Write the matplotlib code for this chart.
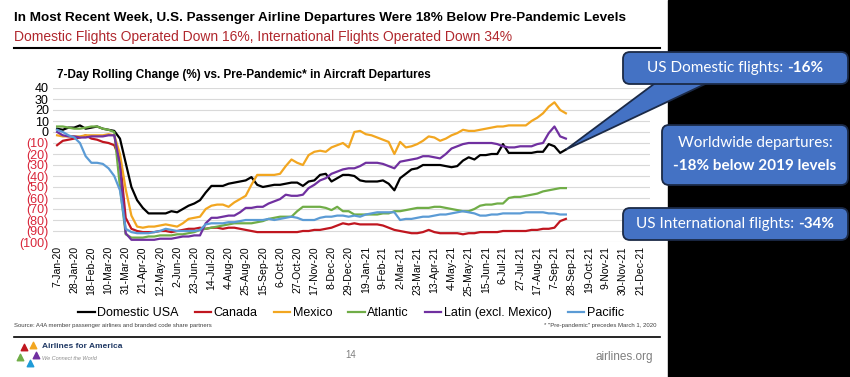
import matplotlib
matplotlib.use("Agg")
import matplotlib.pyplot as plt
import matplotlib.dates as mdates
from matplotlib.patches import FancyBboxPatch, Polygon, Rectangle
import pandas as pd

plt.rcParams['font.family'] = ['Liberation Sans', 'DejaVu Sans']

# weekly points, 7-Jan-20 .. 21-Sep-21
dates = pd.date_range('2020-01-07', periods=90, freq='7D')

domestic = [3, 2, 4, 4, 6, 3, 4, 5, 3, 2,
            1, -6, -28, -50, -62, -69, -74, -74, -74, -74,
            -72, -73, -70, -67, -65, -62, -55, -49, -49, -49,
            -47, -46, -45, -44, -41, -48, -50, -49, -48, -48,
            -47, -46, -46, -49, -45, -44, -39, -38, -45, -42,
            -39, -39, -40, -44, -45, -45, -45, -44, -47, -53,
            -42, -38, -34, -33, -30, -30, -30, -30, -31, -32,
            -31, -26, -23, -25, -21, -21, -20, -20, -11, -19,
            -19, -19, -19, -19, -18, -18, -11, -13, -19, -16]

canada = [-12, -8, -7, -6, -5, -3, -6, -7, -9, -10,
          -12, -25, -78, -88, -90, -91, -91, -91, -90, -90,
          -91, -90, -89, -88, -88, -87, -88, -87, -87, -88,
          -87, -87, -88, -89, -90, -91, -91, -91, -91, -91,
          -91, -91, -91, -90, -90, -89, -89, -88, -87, -85,
          -83, -84, -83, -84, -84, -84, -84, -85, -87, -89,
          -90, -91, -92, -92, -91, -89, -91, -92, -92, -92,
          -92, -93, -92, -92, -91, -91, -91, -91, -90, -90,
          -90, -90, -90, -89, -89, -88, -88, -87, -81, -79]

mexico = [-3, -4, -4, -4, -4, -3, -3, -3, -3, -2,
          -3, -20, -52, -76, -86, -87, -86, -86, -85, -84,
          -85, -86, -83, -79, -78, -77, -70, -67, -66, -66,
          -68, -64, -61, -58, -48, -39, -39, -39, -39, -38,
          -31, -25, -28, -30, -21, -18, -17, -18, -14, -12,
          -10, -14, 0, 1, -2, -3, -5, -7, -9, -20,
          -9, -14, -13, -11, -8, -4, -5, -8, -6, -3,
          -1, 2, 1, 1, 2, 3, 4, 5, 5, 6,
          6, 6, 6, 10, 13, 17, 23, 27, 20, 17]

atlantic = [5, 5, 4, 3, 3, 4, 5, 5, 3, 2,
            0, -50, -93, -96, -96, -96, -95, -95, -94, -94,
            -94, -93, -93, -92, -91, -89, -88, -87, -86, -85,
            -84, -83, -83, -83, -83, -82, -81, -79, -78, -77,
            -77, -77, -72, -68, -68, -68, -68, -69, -71, -68,
            -72, -72, -75, -75, -75, -75, -75, -74, -74, -72,
            -72, -71, -70, -69, -69, -69, -68, -68, -69, -70,
            -71, -72, -72, -70, -67, -66, -66, -65, -65, -60,
            -59, -59, -58, -57, -56, -54, -53, -52, -51, -51]

latin = [0, -3, -4, -4, -5, -5, -4, -4, -4, -3,
         -3, -30, -92, -98, -98, -98, -98, -98, -97, -97,
         -97, -96, -95, -95, -94, -94, -83, -78, -78, -77,
         -76, -76, -73, -69, -69, -68, -68, -65, -63, -61,
         -57, -58, -58, -57, -51, -48, -44, -42, -38, -36,
         -34, -33, -33, -31, -28, -28, -28, -29, -31, -33,
         -27, -26, -25, -24, -22, -22, -23, -24, -20, -15,
         -13, -11, -10, -10, -10, -10, -10, -11, -13, -14,
         -14, -13, -13, -13, -11, -10, -1, 5, -4, -6]

pacific = [2, 0, -3, -5, -10, -22, -28, -28, -29, -33,
           -40, -53, -88, -91, -92, -92, -92, -91, -90, -88,
           -89, -90, -90, -90, -90, -89, -84, -83, -83, -83,
           -82, -82, -81, -80, -80, -80, -80, -79, -80, -79,
           -78, -77, -78, -80, -80, -80, -78, -77, -77, -76,
           -76, -77, -76, -77, -75, -74, -73, -73, -73, -73,
           -80, -79, -79, -78, -77, -77, -76, -75, -75, -74,
           -73, -72, -73, -74, -76, -76, -75, -75, -74, -74,
           -74, -74, -73, -73, -73, -73, -74, -74, -75, -75]

series = [
    ('Domestic USA', domestic, '#000000'),
    ('Canada', canada, '#C0161F'),
    ('Mexico', mexico, '#F2A620'),
    ('Atlantic', atlantic, '#70AD47'),
    ('Latin (excl. Mexico)', latin, '#7030A0'),
    ('Pacific', pacific, '#5B9BD5'),
]

yticks = [40, 30, 20, 10, 0, -10, -20, -30, -40, -50, -60, -70, -80, -90, -100]
ytick_labels = ['40', '30', '20', '10', '0', '(10)', '(20)', '(30)', '(40)', '(50)',
                '(60)', '(70)', '(80)', '(90)', '(100)']
xticks = pd.date_range('2020-01-07', '2021-12-21', freq='21D')

fig = plt.figure(figsize=(8.5, 3.77), dpi=100)
fig.patch.set_facecolor('white')

ax = fig.add_axes([53 / 850, 1 - 242 / 377, 597 / 850, 154 / 377])
for name, vals, col in series:
    ax.plot(dates, vals, color=col, lw=1.6, label=name, solid_joinstyle='round')

ax.set_ylim(-100, 40)
ax.set_xlim(pd.Timestamp('2020-01-02'), pd.Timestamp('2022-01-02'))
ax.set_yticks(yticks)
ax.set_yticklabels(ytick_labels, fontsize=9)
for lab, v in zip(ax.get_yticklabels(), yticks):
    lab.set_color('#D9263A' if v < 0 else '#000000')
ax.set_xticks(xticks)
ax.set_xticklabels([f"{d.day}-{d.strftime('%b')}-{d.strftime('%y')}" for d in xticks],
                   rotation=90, fontsize=7.5)
ax.tick_params(length=0, pad=3)
ax.grid(axis='y', color='#D9D9D9', lw=0.8)
ax.set_axisbelow(True)
for s in ax.spines.values():
    s.set_visible(False)

ax.legend(loc='center', bbox_to_anchor=(351 / 850, 1 - 313 / 377),
          bbox_transform=fig.transFigure, ncol=6, frameon=False, fontsize=9,
          handlelength=1.3, handletextpad=0.2, columnspacing=1.3)

# overlay in pixel units for titles, footer and callouts
ov = fig.add_axes([0, 0, 1, 1], zorder=10)
ov.set_xlim(0, 850)
ov.set_ylim(377, 0)
ov.axis('off')
ov.patch.set_visible(False)

ov.add_patch(Rectangle((668, 0), 182, 377, color='black', zorder=0))

ov.text(14, 18, 'In Most Recent Week, U.S. Passenger Airline Departures Were 18% Below Pre-Pandemic Levels',
        fontsize=9.7, fontweight='bold', va='center')
ov.text(14, 37, 'Domestic Flights Operated Down 16%, International Flights Operated Down 34%',
        fontsize=10, color='#B0272D', va='center')
ov.plot([14, 660], [48, 48], color='black', lw=1.5)
ov.text(57, 75, '7-Day Rolling Change (%) vs. Pre-Pandemic* in Aircraft Departures',
        fontsize=8.5, fontweight='bold', va='center')

ov.text(14, 326, 'Source: A4A member passenger airlines and branded code share partners',
        fontsize=4.3, color='#404040', va='center')
ov.text(657, 326, '* "Pre-pandemic" precedes March 1, 2020', fontsize=4.3, color='#404040',
        va='center', ha='right')
ov.plot([14, 660], [337, 337], color='black', lw=1.2)

# logo
for (lx, ly, c) in [(24, 347, '#C0161F'), (33, 345, '#F2A620'), (20, 357, '#70AD47'),
                    (30, 363, '#1F9BD7'), (36, 355, '#7030A0')]:
    ov.scatter(lx, ly, marker='^', s=22, color=c, zorder=5)
ov.text(42, 347, 'Airlines for America', fontsize=6, fontweight='bold', color='#1F3864',
        va='center')
ov.text(42, 359, 'We Connect the World', fontsize=4, color='#8C8C8C', va='center',
        style='italic')
ov.text(351, 355, '14', fontsize=7, color='#7F7F7F', ha='center', va='center')
ov.text(653, 357, 'airlines.org', fontsize=8.5, color='#7F7F7F', ha='right', va='center')

# callouts
fig.canvas.draw()
r = fig.canvas.get_renderer()
tip_disp = ax.transData.transform((mdates.date2num(dates[-1]), domestic[-1]))
tip = (tip_disp[0] * 850 / fig.bbox.width, 377 - tip_disp[1] * 377 / fig.bbox.height)

box_fc = '#4472C4'
box_ec = '#1B2A47'
ov.add_patch(Polygon([tip, (662, 78), (718, 78)], closed=True, fc=box_fc, ec=box_ec,
                     lw=1.3, zorder=6))


def callout(x0, y0, x1, y1):
    ov.add_patch(FancyBboxPatch((x0, y0), x1 - x0, y1 - y0,
                                boxstyle='round,pad=0,rounding_size=7',
                                fc=box_fc, ec=box_ec, lw=1.3, zorder=7))


def two_part(xc, y, normal, bold, size):
    t1 = ov.text(0, y, normal, fontsize=size, color='white', va='center',
                 family=['Lato', 'DejaVu Sans'], zorder=8)
    t2 = ov.text(0, y, bold, fontsize=size, color='white', va='center', fontweight='bold',
                 family=['Lato', 'DejaVu Sans'], zorder=8)
    w1 = t1.get_window_extent(r).width * 850 / fig.bbox.width
    w2 = t2.get_window_extent(r).width * 850 / fig.bbox.width
    x0 = xc - (w1 + w2) / 2
    t1.set_x(x0)
    t2.set_x(x0 + w1)


callout(623, 52, 848, 84)
two_part(735, 68, 'US Domestic flights: ', '-16%', 11)

callout(662, 125, 848, 185)
ov.text(755, 143, 'Worldwide departures:', fontsize=11, color='white', ha='center',
        va='center', family=['Lato', 'DejaVu Sans'], zorder=8)
ov.text(755, 166, '-18% below 2019 levels', fontsize=11, color='white', ha='center',
        va='center', fontweight='bold', family=['Lato', 'DejaVu Sans'], zorder=8)

callout(623, 208, 848, 240)
two_part(735, 224, 'US International flights: ', '-34%', 11)

fig.savefig('out.png', dpi=100)
